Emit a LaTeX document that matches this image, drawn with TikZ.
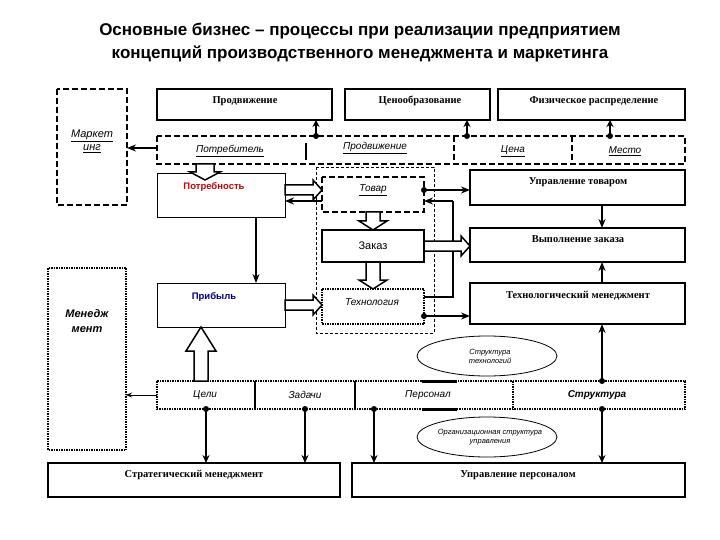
\documentclass[tikz,border=0pt]{standalone}
\usepackage{fontspec}
\setmainfont{Liberation Serif}
\newfontfamily\sansf{Liberation Sans}
\usetikzlibrary{arrows.meta,calc}
\tikzset{
 thick/.style={line width=1.5pt},
 dashed/.style={dash pattern=on 6pt off 3pt},
 hdr/.style={font=\bfseries\fontsize{10.5}{12}\selectfont},
 it/.style={font=\sansf\itshape\fontsize{10}{11}\selectfont},
 ar/.style={-{Stealth[length=9pt,width=7pt]},thick},
 dot/.style={circle,fill,inner sep=0pt,minimum size=6pt},
 hol/.style={draw,line width=1.5pt,fill=white}
}
\newcommand\hollv[6]{\path[hol] (#1-#4,#2)--(#1-#4,#3-#6)--(#1-#5,#3-#6)--(#1,#3)--(#1+#5,#3-#6)--(#1+#4,#3-#6)--(#1+#4,#2)--cycle;}
\newcommand\hollh[6]{\path[hol] (#2,#1-#4)--(#3-#6,#1-#4)--(#3-#6,#1-#5)--(#3,#1)--(#3-#6,#1+#5)--(#3-#6,#1+#4)--(#2,#1+#4)--cycle;}
\begin{document}
\begin{tikzpicture}[x=1pt,y=-1pt]
\useasboundingbox (0,0) rectangle (720,540);
\node[font=\sansf\bfseries\fontsize{17}{23}\selectfont,align=center] (title) at (360,43)
 {Основные бизнес – процессы при реализации предприятием\\концепций производственного менеджмента и маркетинга};
% left boxes
\draw[thick,dashed] (57,89) rectangle (127,205);
\node[align=center,font=\sansf\itshape\fontsize{11}{13}\selectfont] (mk) at (92,141) {\underline{Маркет}\\\underline{инг}};
\coordinate (mkR) at (127,148);
\draw[thick,densely dotted] (48,268) rectangle (126,450);
\node[align=center,font=\sansf\bfseries\itshape\fontsize{11}{15}\selectfont] (mn) at (87,321) {Менедж\\мент};
\coordinate (mnR) at (126,395);
% top boxes
\draw[thick] (157,89) rectangle (332,120); \node[hdr] (pr) at (245,101) {Продвижение};
\draw[thick] (345,89) rectangle (490,120); \node[hdr] (cen) at (420,101) {Ценообразование};
\draw[thick] (498,89) rectangle (685,120); \node[hdr] (fiz) at (594,101) {Физическое распределение};
% row 1
\draw[thick,dashed] (157,136) rectangle (685,164);
\draw[thick] (306,143)--(306,160); \draw[thick,dashed] (454,136)--(454,164) (572,136)--(572,164);
\node[it] (potr) at (230,151) {\underline{Потребитель}};
\node[it] (prod) at (375,148) {\underline{Продвижение}};
\node[it] (cena) at (513,151) {\underline{Цена}};
\node[it] (mesto) at (625,151) {\underline{Место}};
\foreach \x in {316,467,610}{\draw[{Stealth[length=7pt,width=7pt]}-,line width=2pt] (\x,120)--(\x,136); \node[dot] at (\x,136) {};}
\draw[ar] (157,148)--(mkR);
% middle
\draw[line width=0.6pt,dash pattern=on 3pt off 2pt] (316,167) rectangle (434,333);
\draw[line width=0.8pt] (157,173) rectangle (285,217); \node[font=\sansf\bfseries\fontsize{9.5}{11}\selectfont,text=red!80!black] (need) at (214,187) {Потребность};
\draw[thick,dashed] (322,177) rectangle (424,212); \node[it] (tovar) at (373,190) {\underline{Товар}};
\draw[thick] (470,170) rectangle (685,205); \node[hdr] (upt) at (578,182) {Управление товаром};
\draw[thick] (322,230) rectangle (424,262); \node[font=\sansf\fontsize{11}{12}\selectfont] (zak) at (373,246) {Заказ};
\draw[thick] (470,228) rectangle (685,262); \node[hdr] (vyp) at (578,239) {Выполнение заказа};
\draw[line width=0.8pt] (157,283) rectangle (285,327); \node[font=\sansf\bfseries\fontsize{9.5}{11}\selectfont,text=blue!50!black] (prib) at (214,297) {Прибыль};
\draw[thick,densely dotted] (322,289) rectangle (424,324); \node[font=\sansf\itshape\fontsize{10}{11}\selectfont] (tech) at (372,302) {Технология};
\draw[thick] (470,283) rectangle (685,324); \node[hdr] (tm) at (578,296) {Технологический менеджмент};
% ellipses
\draw[line width=0.8pt] (487,356) ellipse (70 and 20); \node[font=\sansf\itshape\fontsize{7.5}{9}\selectfont,align=center] (e1) at (490,356) {Структура\\технологий};
\draw[line width=0.8pt] (487,437) ellipse (70 and 20); \node[font=\sansf\itshape\fontsize{7.5}{9}\selectfont,align=center] (e2) at (490,437) {Организационная структура\\управления};
% row 2
\draw[thick,densely dotted] (157,381) rectangle (685,409);
\draw[thick] (255,381)--(255,409) (355,381)--(355,409); \draw[thick,densely dotted] (513,381)--(513,409);
\draw[line width=3pt] (422,381)--(457,381) (422,409)--(457,409);
\node[it] (celi) at (205,395) {Цели};
\node[it] (zad) at (305,395) {Задачи};
\node[it] (pers) at (428,395) {Персонал};
\node[font=\sansf\bfseries\itshape\fontsize{10}{11}\selectfont] (str) at (597,395) {Структура};
\draw[-{Stealth[length=6pt,width=5pt]},line width=0.8pt] (157,395)--(mnR);
% bottom boxes
\draw[thick] (48,463) rectangle (340,497); \node[hdr] (sm) at (194,475) {Стратегический менеджмент};
\draw[thick] (352,463) rectangle (685,497); \node[hdr] (up) at (518,475) {Управление персоналом};
\foreach \x/\w in {206/2pt,305/1.2pt,374/2pt,602/2pt}{\draw[-{Stealth[length=8pt,width=7pt]},line width=\w] (\x,409)--(\x,463); \node[dot] at (\x,409) {};}
% connectors middle
\hollv{205}{164}{180}{9}{15}{8}
\hollh{190}{285}{322}{5}{10}{9}
\draw[ar,line width=2pt] (322,201)--(285,201);
\node[dot] at (424,190) {}; \draw[ar] (424,190)--(470,190);
\draw[thick] (424,297)--(453,297)--(453,201); \draw[ar] (453,201)--(424,201);
\hollv{373}{212}{230}{7}{14}{9}
\hollh{246}{424}{470}{5}{10}{9}
\hollv{373}{262}{289}{7}{14}{9}
\draw[ar,line width=2pt] (256,217)--(256,283);
\hollh{305}{285}{322}{5}{10}{9}
\node[dot] at (424,316) {}; \draw[ar] (424,316)--(470,316);
\draw[ar] (602,205)--(602,228);
\draw[ar] (602,283)--(602,262);
\node[dot] at (602,381) {}; \draw[ar] (602,381)--(602,324);
\hollv{201}{381}{327}{-7}{-15}{-24}
\end{tikzpicture}
\end{document}
